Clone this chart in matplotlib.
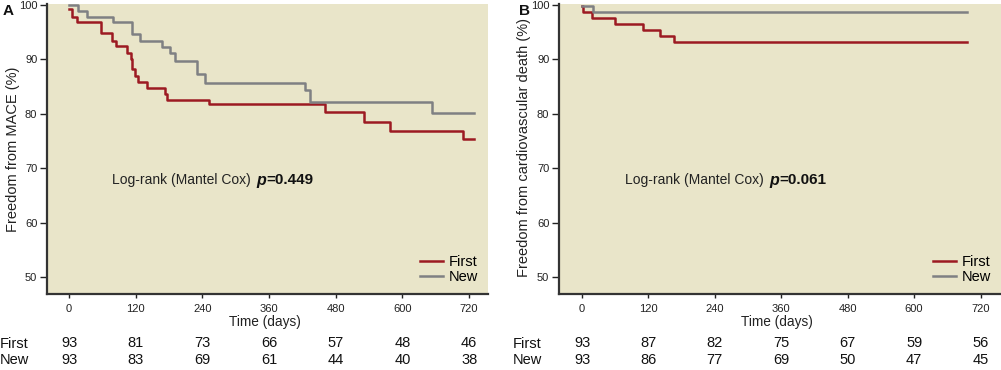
import matplotlib
matplotlib.use("Agg")
import matplotlib.pyplot as plt

# Kaplan-Meier steps (days, % event free)
a_first_t = [0, 5, 15, 58, 78, 84, 104, 111, 114, 119, 124, 140, 173, 176, 252, 460, 531, 578, 709, 729]
a_first_s = [99.2, 97.9, 96.8, 94.9, 93.4, 92.4, 91.2, 90.0, 88.2, 87.0, 85.9, 84.7, 83.6, 82.6, 81.8, 80.3, 78.6, 76.9, 75.3, 75.3]
a_new_t = [0, 17, 32, 80, 114, 128, 167, 182, 190, 230, 245, 425, 434, 653, 729]
a_new_s = [100, 99.0, 97.8, 96.8, 94.7, 93.4, 92.3, 91.2, 89.8, 87.4, 85.7, 84.4, 82.2, 80.2, 80.2]

b_first_t = [0, 2, 18, 60, 110, 140, 167, 696]
b_first_s = [99.8, 98.8, 97.6, 96.5, 95.4, 94.3, 93.3, 93.3]
b_new_t = [0, 19, 696]
b_new_s = [99.8, 98.7, 98.7]

ticks = [0, 120, 240, 360, 480, 600, 720]
a_risk_first = [93, 81, 73, 66, 57, 48, 46]
a_risk_new = [93, 83, 69, 61, 44, 40, 38]
b_risk_first = [93, 87, 82, 75, 67, 59, 56]
b_risk_new = [93, 86, 77, 69, 50, 47, 45]

RED = "#9c1a22"
GREY = "#7f8083"
BG = "#e9e5c9"
SANS = ["Liberation Sans", "DejaVu Sans"]

fig = plt.figure(figsize=(10.01, 3.7), dpi=100)

panels = [
    dict(rect=[47/1001, 76/370, 441/1001, 290/370], xlim=(-39.6, 754),
         first=(a_first_t, a_first_s), new=(a_new_t, a_new_s),
         risk=(a_risk_first, a_risk_new), pval="=0.449",
         ylabel="Freedom from MACE (%)", ylab_pos=(-0.062, 0.50),
         letter="A", letter_x=8/1001, row_x=0.0),
    dict(rect=[559/1001, 76/370, 442/1001, 290/370], xlim=(-41.6, 757),
         first=(b_first_t, b_first_s), new=(b_new_t, b_new_s),
         risk=(b_risk_first, b_risk_new), pval="=0.061",
         ylabel="Freedom from cardiovascular death (%)", ylab_pos=(-0.064, 0.505),
         letter="B", letter_x=524/1001, row_x=513/1001),
]

for p in panels:
    ax = fig.add_axes(p["rect"])
    ax.set_facecolor(BG)
    ax.step(p["first"][0], p["first"][1], where="post", color=RED, lw=1.8, label="First")
    ax.step(p["new"][0], p["new"][1], where="post", color=GREY, lw=1.8, label="New")
    ax.set_xlim(*p["xlim"])
    ax.set_ylim(46.9, 100.2)
    ax.set_xticks(ticks)
    ax.set_yticks([50, 60, 70, 80, 90, 100])
    for s in ["top", "right"]:
        ax.spines[s].set_visible(False)
    for s in ["left", "bottom"]:
        ax.spines[s].set_color("#333333")
        ax.spines[s].set_linewidth(1.6)
    ax.tick_params(axis="x", length=3, width=1, pad=4, colors="#222222")
    ax.tick_params(axis="y", length=5, width=1, pad=2, colors="#222222")
    for lab in ax.get_xticklabels() + ax.get_yticklabels():
        lab.set_family(SANS)
        lab.set_fontsize(8)
    ax.set_ylabel(p["ylabel"], family=SANS, fontsize=10.5, color="#222222")
    ax.yaxis.set_label_coords(*p["ylab_pos"])

    tr = ax.get_xaxis_transform()
    ax.text(353, -0.097, "Time (days)", transform=tr, ha="center", va="center",
            family=SANS, fontsize=9.8, color="#222222")

    # log-rank annotation
    lr = ax.text(77, 0.393, "Log-rank (Mantel Cox)", transform=tr, ha="left", va="center",
                 family=SANS, fontsize=10, color="#222222")
    pt = ax.annotate("p", xy=(1, 0.5), xycoords=lr, xytext=(4, 0), textcoords="offset points",
                     ha="left", va="center", family=SANS, fontsize=11.5,
                     weight="bold", style="italic", color="#111111")
    ax.annotate(p["pval"], xy=(1, 0.5), xycoords=pt, xytext=(0.5, 0), textcoords="offset points",
                ha="left", va="center", family=SANS, fontsize=11,
                weight="bold", color="#111111")

    ax.legend(loc="lower right", bbox_to_anchor=(1.0, 0.0), frameon=False,
              prop={"family": SANS, "size": 10.5}, handlelength=1.6,
              handletextpad=0.35, labelspacing=0.05, borderaxespad=0.3)

    # numbers at risk
    for x, nf, nn in zip(ticks, p["risk"][0], p["risk"][1]):
        ax.text(x, -0.170, str(nf), transform=tr, ha="center", va="center",
                family=SANS, fontsize=10.5, color="#111111")
        ax.text(x, -0.228, str(nn), transform=tr, ha="center", va="center",
                family=SANS, fontsize=10.5, color="#111111")
    fig.text(p["row_x"], (370 - 343.5) / 370, "First", ha="left", va="center",
             family=SANS, fontsize=10.5, color="#111111")
    fig.text(p["row_x"], (370 - 360.5) / 370, "New", ha="left", va="center",
             family=SANS, fontsize=10.5, color="#111111")

    fig.text(p["letter_x"], (370 - 11) / 370, p["letter"], ha="center", va="center",
             family=SANS, fontsize=11, weight="bold", color="#111111")

fig.savefig("out.png", dpi=100)
